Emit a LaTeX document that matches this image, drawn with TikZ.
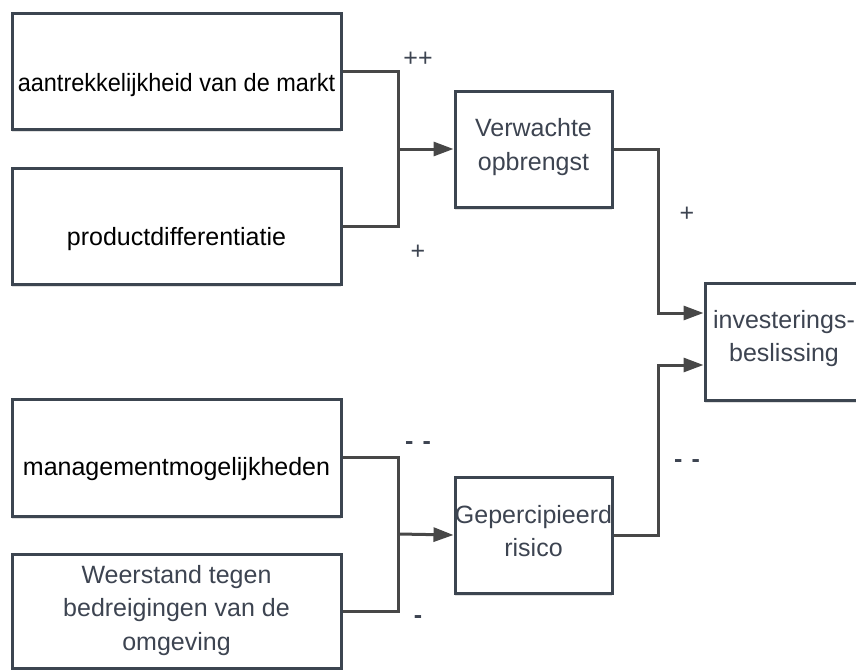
\documentclass[tikz,border=0pt]{standalone}
\usepackage{fontspec}
\setmainfont{Liberation Sans}
\usetikzlibrary{arrows.meta,shadows}
\definecolor{boxline}{HTML}{3C4550}
\definecolor{conn}{HTML}{474747}
\definecolor{txtgray}{HTML}{3D4451}
\tikzset{
  boxnode/.style={draw=boxline, line width=3pt, fill=white, inner sep=0pt,
    drop shadow={shadow xshift=0pt, shadow yshift=-3pt, opacity=0.12, fill=black}},
  btext/.style={inner sep=0pt, font=\fontsize{25}{33.5}\selectfont, align=center},
  lbl/.style={inner sep=0pt, text=txtgray, font=\fontsize{25}{30}\selectfont},
  conline/.style={draw=conn, line width=3pt},
  conarrow/.style={conline, -{Triangle[length=20pt,width=14pt]}}
}
\begin{document}
\begin{tikzpicture}[x=1pt,y=-1pt]
\useasboundingbox (0,0) rectangle (856,669);
% boxes
\node[boxnode, minimum width=329pt, minimum height=115pt] (b1) at (176.5,71.5) {};
\node[boxnode, minimum width=329pt, minimum height=116pt] (b2) at (176.5,226) {};
\node[boxnode, minimum width=329pt, minimum height=117pt] (b3) at (176.5,457.5) {};
\node[boxnode, minimum width=329pt, minimum height=114pt] (b4) at (176.5,611) {};
\node[boxnode, minimum width=157pt, minimum height=116pt] (verw) at (533.5,149) {};
\node[boxnode, minimum width=157pt, minimum height=116pt] (gep) at (533.5,535) {};
\node[boxnode, minimum width=158pt, minimum height=117pt] (inv) at (784,341.5) {};
% texts
\node[btext, anchor=base, xscale=0.94] (t1) at (176.5,91) {aantrekkelijkheid van de markt};
\node[btext, anchor=base] (t2) at (176.5,245) {productdifferentiatie};
\node[btext, anchor=base] (t3) at (176.5,475) {managementmogelijkheden};
\node[btext, text=txtgray] (t4) at (176.5,610.5) {Weerstand tegen\\bedreigingen van de\\omgeving};
\node[btext, text=txtgray] (tv) at (533.5,147) {Verwachte\\opbrengst};
\node[btext, text=txtgray] (tg) at (533.5,531) {Gepercipieerd\\risico};
\node[btext, text=txtgray] (ti) at (784,338.5) {investerings-\\beslissing};
% connectors
\coordinate (j1) at (398,149);
\coordinate (j2) at (398.5,534);
\coordinate (c1) at (658,313);
\coordinate (c2) at (658,365);
\draw[conline] (b1.east) -| (j1) |- (b2.east);
\draw[conarrow] (j1) -- (verw.west);
\draw[conline] (b3.east) -| (j2) |- (b4.east);
\draw[conarrow] (j2) -- (gep.west);
\draw[conarrow] (verw.east) -| (c1) -- (inv.west |- c1);
\draw[conarrow] (gep.east) -| (c2) -- (inv.west |- c2);
% labels
\node[lbl] (l1) at (418,59) {++};
\node[lbl] (l2) at (418,252) {+};
\node[lbl] (l3) at (687,214) {+};
\node[lbl, font=\fontsize{25}{30}\selectfont\bfseries] (l4) at (418,446) {-\hspace{9pt}-};
\node[lbl, font=\fontsize{25}{30}\selectfont\bfseries] (l5) at (418,620) {-};
\node[lbl, font=\fontsize{25}{30}\selectfont\bfseries] (l6) at (687,464) {-\hspace{9pt}-};
\end{tikzpicture}
\end{document}
